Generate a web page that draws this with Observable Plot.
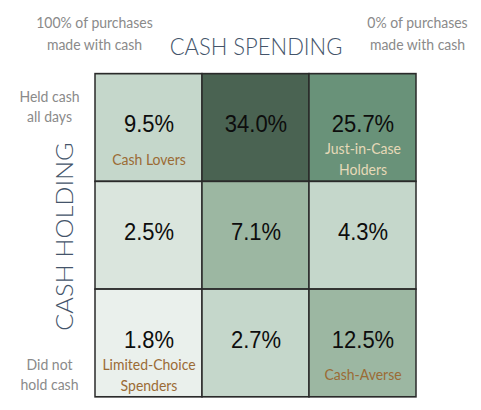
<!DOCTYPE html>
<html>
<head>
<meta charset="utf-8">
<script src="https://cdn.jsdelivr.net/npm/d3@7"></script>
<script src="https://cdn.jsdelivr.net/npm/@observablehq/plot@0.6"></script>
<style>
  html, body { margin: 0; padding: 0; background: #fff; }
  #chart svg { display: block; }
</style>
</head>
<body>
<div id="chart"></div>
<script>
// Data
const holdingRows = ["Held cash all days", "Held cash some days", "Did not hold cash"];
const spendingCols = ["100% cash", "Mixed", "0% cash"];
const shares = [
  9.5, 34.0, 25.7,
  2.5, 7.1, 4.3,
  1.8, 2.7, 12.5
];
const segmentNames = [
  "Cash Lovers", "", "Just-in-Case\nHolders",
  "", "", "",
  "Limited-Choice\nSpenders", "", "Cash-Averse"
];
const cornerTop = ["100% of purchases\nmade with cash", "0% of purchases\nmade with cash"];
const cornerSide = ["Held cash\nall days", "Did not\nhold cash"];
const titleX = "CASH SPENDING";
const titleY = "CASH HOLDING";

const cells = shares.map((v, i) => ({
  id: i,
  row: holdingRows[Math.floor(i / 3)],
  col: spendingCols[i % 3],
  value: v,
  name: segmentNames[i]
}));

const shadeRange = [
  "#c5d7cb", "#4a6352", "#699279",
  "#dae5dd", "#9cb7a2", "#c5d7cb",
  "#eaf0ec", "#c5d7cb", "#9cb7a2"
];

const labelFont = "Lato, 'Open Sans', sans-serif";
const grayText = "#8a8a8a";
const slate = "#44546a";

// The original picture is slightly stretched vertically; draw at a shorter
// height and stretch the SVG to the final size.
const outH = 410;
const k = 1.099;
const H = Math.round(outH / k);

const chart = Plot.plot({
  width: 481,
  height: H,
  marginLeft: 94,
  marginRight: 64,
  marginTop: 72 / k,
  marginBottom: 12 / k,
  x: {type: "band", domain: spendingCols, padding: 0, axis: null},
  y: {type: "band", domain: holdingRows, padding: 0, axis: null},
  color: {type: "ordinal", domain: cells.map(d => d.id), range: shadeRange},
  style: {background: "white"},
  marks: [
    Plot.cell(cells, {x: "col", y: "row", fill: "id", stroke: "#2a2a2a", strokeWidth: 1.5, inset: 0}),
    Plot.text(cells, {
      x: "col", y: "row", text: d => d.value.toFixed(1) + "%",
      dy: -3.5 / k, fontSize: 22, fill: "#0d0d0d",
      fontFamily: "'Liberation Sans', Arial, sans-serif"
    }),
    Plot.text(cells.filter(d => d.name && d.value < 20), {
      x: "col", y: "row", text: "name", dy: 30 / k, lineAnchor: "middle",
      fontSize: 14, lineHeight: 1.36, fill: "#9b6b35", fontFamily: labelFont
    }),
    Plot.text(cells.filter(d => d.name && d.value >= 20), {
      x: "col", y: "row", text: "name", dy: 30 / k, lineAnchor: "middle",
      fontSize: 14, lineHeight: 1.36, fill: "#e6d9b8", fontFamily: labelFont
    }),
    // Title top
    Plot.text([titleX], {
      frameAnchor: "top", dy: -25 / k, lineAnchor: "middle",
      fontSize: 22, fill: slate, fontFamily: labelFont, fontWeight: 300
    }),
    // Corner labels
    Plot.text([cornerTop[0]], {
      frameAnchor: "top-left", dy: -41 / k, textAnchor: "middle", lineAnchor: "middle",
      fontSize: 14, lineHeight: 1.43, fill: grayText, fontFamily: labelFont
    }),
    Plot.text([cornerTop[1]], {
      frameAnchor: "top-right", dy: -41 / k, textAnchor: "middle", lineAnchor: "middle",
      fontSize: 14, lineHeight: 1.43, fill: grayText, fontFamily: labelFont
    }),
    Plot.text([cornerSide[0]], {
      frameAnchor: "top-left", dx: -45, dy: 33 / k, textAnchor: "middle", lineAnchor: "middle",
      fontSize: 14, lineHeight: 1.3, fill: grayText, fontFamily: labelFont
    }),
    Plot.text([cornerSide[1]], {
      frameAnchor: "bottom-left", dx: -45, dy: -24.5 / k, textAnchor: "middle", lineAnchor: "middle",
      fontSize: 14, lineHeight: 1.3, fill: grayText, fontFamily: labelFont
    }),
    // Side title
    Plot.text([titleY], {
      frameAnchor: "left", dx: -29, dy: 1 / k, rotate: -90, textAnchor: "middle", lineAnchor: "middle",
      fontSize: 23, fill: slate, fontFamily: labelFont, fontWeight: 300
    })
  ]
});
chart.setAttribute("height", outH);
chart.setAttribute("preserveAspectRatio", "none");
chart.style.width = "481px";
chart.style.height = outH + "px";
chart.style.maxWidth = "none";
document.getElementById("chart").appendChild(chart);
</script>
</body>
</html>
